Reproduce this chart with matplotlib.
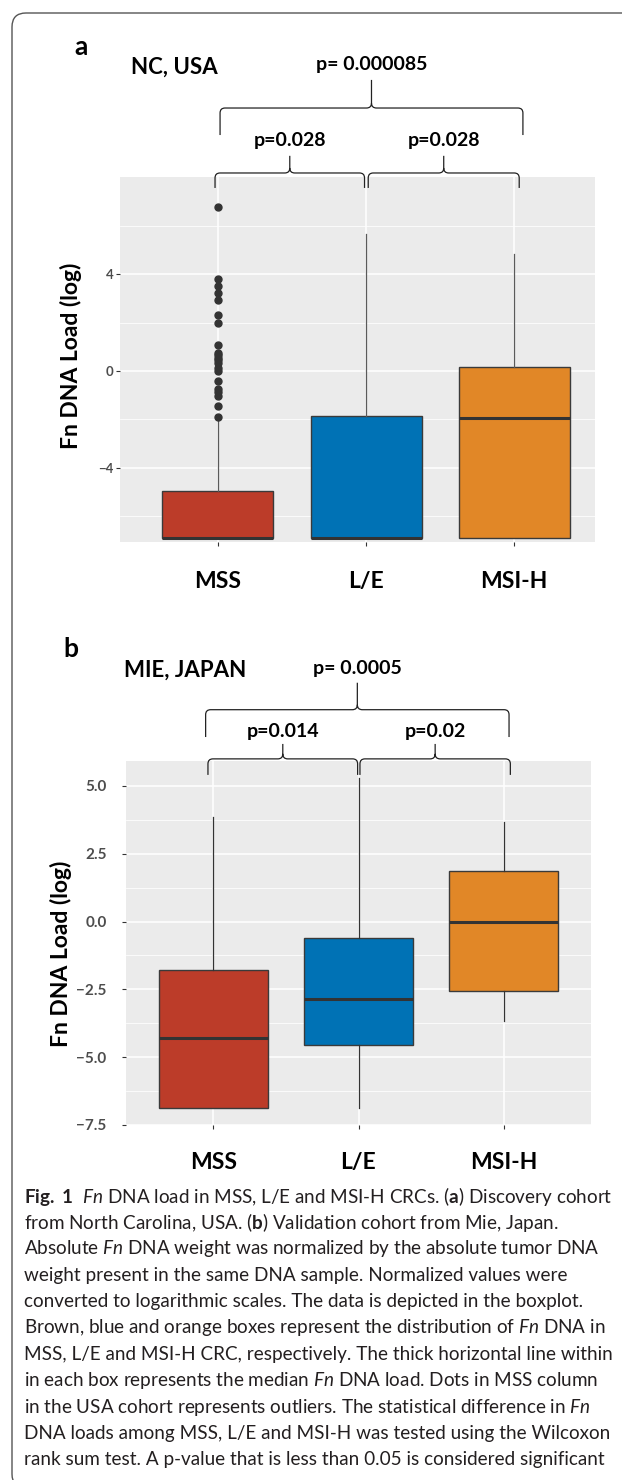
import matplotlib.pyplot as plt
import numpy as np
from matplotlib.path import Path
from matplotlib.patches import PathPatch, FancyBboxPatch
from matplotlib.transforms import IdentityTransform

plt.rcParams['font.family'] = ['Lato', 'DejaVu Sans']
plt.rcParams['mathtext.fontset'] = 'custom'
plt.rcParams['mathtext.rm'] = 'Lato'
plt.rcParams['mathtext.it'] = 'Lato:italic'
plt.rcParams['mathtext.bf'] = 'Lato:bold'

groups = ['MSS', 'L/E', 'MSI-H']
colors = ['#BC3C29', '#0072B5', '#E18727']

# panel a: NC, USA  (log scale)
a_q1  = [-6.92, -6.92, -6.92]
a_med = [-6.92, -6.92, -1.92]
a_q3  = [-4.95, -1.85, 0.15]
a_lo  = [-6.92, -6.92, -6.92]
a_hi  = [-1.98, 5.67, 4.84]
a_out = [6.79, 3.79, 3.52, 3.23, 2.94, 2.32, 1.97, 1.10, 0.76, 0.65, 0.55,
         0.44, 0.32, 0.14, 0.0, -0.39, -0.74, -0.88, -1.02, -1.45, -1.89]
a_pvals = ['p=0.028', 'p=0.028', 'p= 0.000085']

# panel b: MIE, JAPAN
b_q1  = [-6.89, -4.54, -2.56]
b_med = [-4.31, -2.84, -0.02]
b_q3  = [-1.80, -0.59, 1.86]
b_lo  = [-6.89, -6.89, -3.66]
b_hi  = [3.85, 5.30, 3.68]
b_pvals = ['p=0.014', 'p=0.02', 'p= 0.0005']

caption = [
    r"$\mathbf{Fig.\ 1}$  $\mathit{Fn}$ DNA load in MSS, L/E and MSI-H CRCs. ($\mathbf{a}$) Discovery cohort",
    r"from North Carolina, USA. ($\mathbf{b}$) Validation cohort from Mie, Japan.",
    r"Absolute $\mathit{Fn}$ DNA weight was normalized by the absolute tumor DNA",
    "weight present in the same DNA sample. Normalized values were",
    "converted to logarithmic scales. The data is depicted in the boxplot.",
    r"Brown, blue and orange boxes represent the distribution of $\mathit{Fn}$ DNA in",
    "MSS, L/E and MSI-H CRC, respectively. The thick horizontal line within",
    r"in each box represents the median $\mathit{Fn}$ DNA load. Dots in MSS column",
    r"in the USA cohort represents outliers. The statistical difference in $\mathit{Fn}$",
    "DNA loads among MSS, L/E and MSI-H was tested using the Wilcoxon",
    "rank sum test. A p-value that is less than 0.05 is considered significant",
]

W, H = 622, 1480
fig = plt.figure(figsize=(W / 100, H / 100), dpi=100)


def box(l, t, r, b):
    return [l / W, 1 - b / H, (r - l) / W, (b - t) / H]


def brace(ax, x0, x1, yb, yh, yt, r=5):
    tr = ax.get_xaxis_transform()
    (p0, pb), (p1, ph), (pm, pt) = tr.transform([(x0, yb), (x1, yh), ((x0 + x1) / 2, yt)])
    M, L, C = Path.MOVETO, Path.LINETO, Path.CURVE3
    verts = [(p0, pb), (p0, ph - r), (p0, ph), (p0 + r, ph),
             (pm - r, ph), (pm, ph), (pm, ph + r), (pm, pt),
             (pm, ph + r), (pm, ph), (pm + r, ph),
             (p1 - r, ph), (p1, ph), (p1, ph - r), (p1, pb)]
    codes = [M, L, C, C, L, C, C, L, M, C, C, L, C, C, L]
    fig.add_artist(PathPatch(Path(verts, codes), transform=IdentityTransform(),
                             fill=False, edgecolor='#222222', lw=0.9))


def panel(ax, q1, med, q3, lo, hi, fliers, whisk):
    stats = []
    for i in range(3):
        stats.append(dict(q1=q1[i], med=med[i], q3=q3[i], whislo=lo[i],
                          whishi=hi[i], fliers=fliers[i]))
    bp = ax.bxp(stats, positions=[1, 2, 3], widths=0.75, patch_artist=True,
                showcaps=False,
                boxprops=dict(edgecolor='#3a3a3a', linewidth=1.0),
                medianprops=dict(color='#333333', linewidth=2.2, solid_capstyle='butt'),
                whiskerprops=dict(color=whisk, linewidth=0.9),
                flierprops=dict(marker='o', markerfacecolor='#333333',
                                markeredgecolor='#333333', markersize=5))
    for patch, c in zip(bp['boxes'], colors):
        patch.set_facecolor(c)
    ax.set_facecolor('#EBEBEB')
    for s in ax.spines.values():
        s.set_visible(False)
    ax.set_axisbelow(True)
    ax.grid(which='major', color='white', lw=1.1)
    ax.grid(which='minor', axis='y', color='white', lw=0.55)
    ax.set_xticks([1, 2, 3])
    ax.set_xticklabels(groups, fontsize=16.5, fontweight='bold', color='black')
    ax.tick_params(axis='x', length=3, color='#333333')
    ax.tick_params(axis='y', which='major', length=3, color='#333333')
    ax.tick_params(axis='y', which='minor', length=0)
    ax.set_ylabel('Fn DNA Load (log)', fontsize=16.5, fontweight='bold')


# ---- panel a ----
ax1 = fig.add_axes(box(120, 177, 595, 542))
panel(ax1, a_q1, a_med, a_q3, a_lo, a_hi, [a_out, [], []], '#5a5a5a')
ax1.set_xlim(0.338, 3.547)
ax1.set_ylim(-7.07, 8.03)
ax1.set_yticks([-4, 0, 4])
ax1.set_yticks([-6, -2, 2, 6], minor=True)
ax1.set_yticklabels(['\u22124', '0', '4'], fontsize=9.5, fontweight='bold', color='#4D4D4D')
ax1.tick_params(axis='y', which='major', pad=1.5)
ax1.tick_params(axis='x', pad=18)
ax1.yaxis.set_label_coords(-0.08, 0.51)

a_spans = [(0.98, 1.99), (2.015, 3.035), (1.014, 3.06)]
a_levels = [(0.970, 1.011, 1.058, 1.101), (0.970, 1.011, 1.058, 1.101),
            (1.115, 1.189, 1.266, 1.307)]
for (x0, x1), (yb, yh, yt, ytx), p in zip(a_spans, a_levels, a_pvals):
    brace(ax1, x0, x1, yb, yh, yt)
    ax1.text((x0 + x1) / 2, ytx, p, transform=ax1.get_xaxis_transform(),
             ha='center', va='center', fontsize=14, fontweight='bold')

# ---- panel b ----
ax2 = fig.add_axes(box(126, 760.7, 591, 1125))
panel(ax2, b_q1, b_med, b_q3, b_lo, b_hi, [[], [], []], '#333333')
ax2.set_xlim(0.4, 3.6)
ax2.set_ylim(-7.5, 5.93)
ax2.set_yticks([-7.5, -5, -2.5, 0, 2.5, 5])
ax2.set_yticks([-6.25, -3.75, -1.25, 1.25, 3.75], minor=True)
ax2.set_yticklabels(['\u22127.5', '\u22125.0', '\u22122.5', '0.0', '2.5', '5.0'],
                    fontsize=11, fontweight='bold', color='#4D4D4D')
ax2.tick_params(axis='y', which='major', pad=11)
ax2.tick_params(axis='x', pad=16.5)
ax2.yaxis.set_label_coords(-0.116, 0.469)

b_spans = [(0.964, 1.994), (2.01, 3.045), (0.948, 3.036)]
b_levels = [(0.961, 1.005, 1.046, 1.08), (0.961, 1.005, 1.046, 1.08),
            (1.065, 1.14, 1.214, 1.252)]
for (x0, x1), (yb, yh, yt, ytx), p in zip(b_spans, b_levels, b_pvals):
    brace(ax2, x0, x1, yb, yh, yt)
    ax2.text((x0 + x1) / 2, ytx, p, transform=ax2.get_xaxis_transform(),
             ha='center', va='center', fontsize=14, fontweight='bold')

# headings
fig.text(74 / W, 1 - 47 / H, 'a', ha='left', va='center', fontsize=19, fontweight='bold')
fig.text(131 / W, 1 - 67 / H, 'NC, USA', ha='left', va='center', fontsize=16, fontweight='bold')
fig.text(63 / W, 1 - 649 / H, 'b', ha='left', va='center', fontsize=19, fontweight='bold')
fig.text(124 / W, 1 - 670 / H, 'MIE, JAPAN', ha='left', va='center', fontsize=16, fontweight='bold')

# caption
for i, line in enumerate(caption):
    fig.text(24 / W, 1 - (1196 + i * 26.4) / H, line, ha='left', va='center',
             fontsize=13.6, color='#231F20')

# rounded frame
frame = FancyBboxPatch((12, -8), 700, H - 13 + 8, boxstyle='round,pad=0,rounding_size=14',
                       transform=IdentityTransform(), fill=False, edgecolor='#555555', lw=1.0)
fig.add_artist(frame)

fig.savefig('out.png', dpi=100)
